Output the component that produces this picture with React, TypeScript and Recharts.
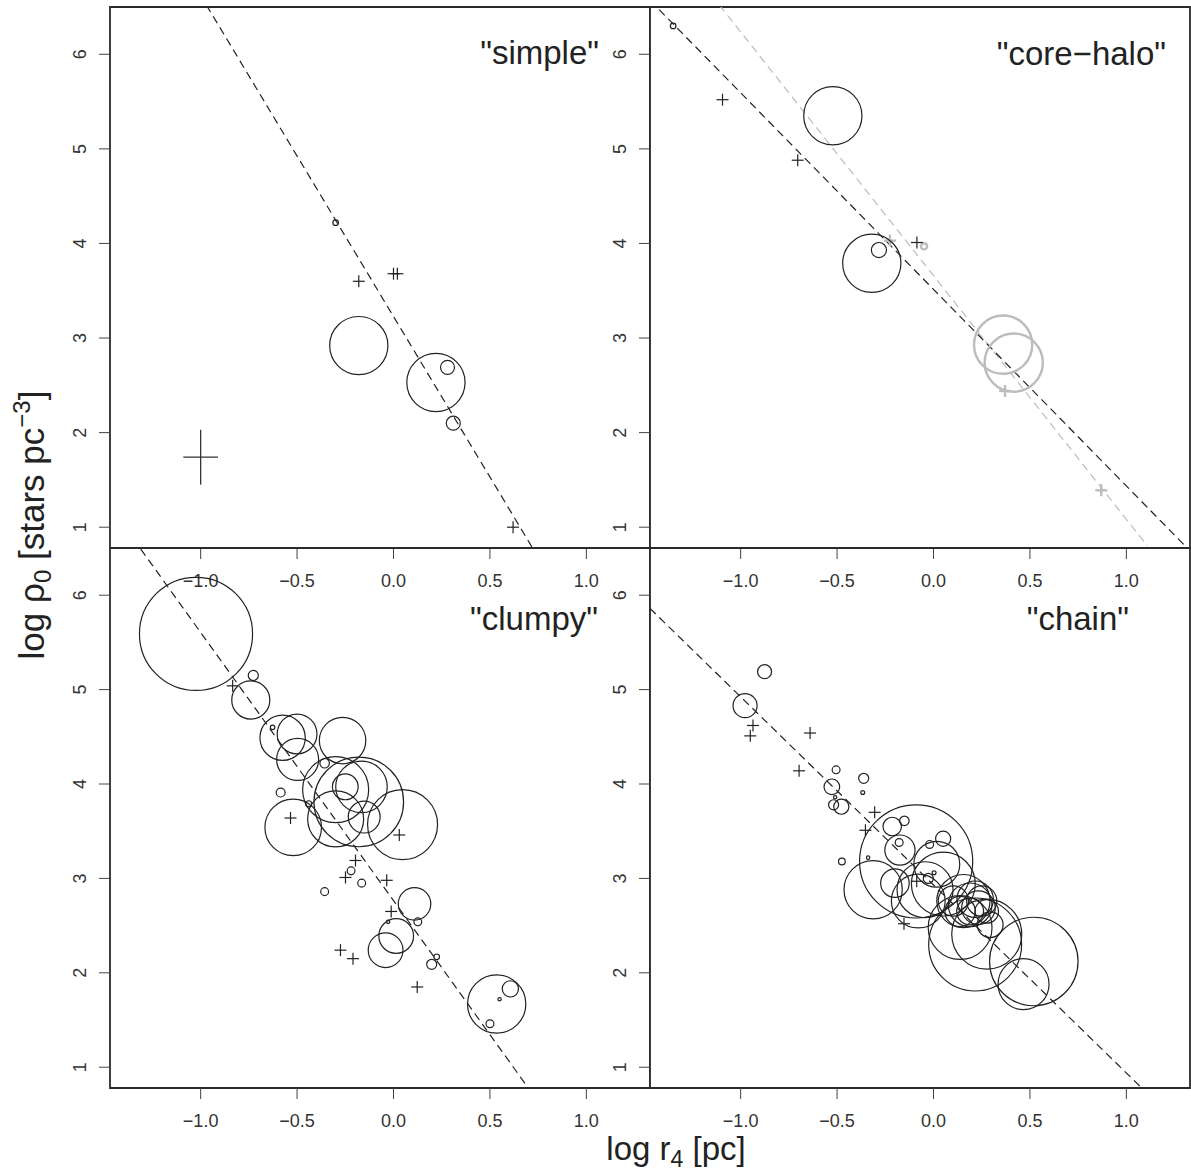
import { ScatterChart, Scatter, XAxis, YAxis, ReferenceLine, ReferenceArea, ErrorBar } from 'recharts';

// axes shared by all four panels
const X_DOMAIN: [number, number] = [-1.47, 1.33];
const Y_DOMAIN: [number, number] = [0.78, 6.5];
const xTicks = [-1, -0.5, 0, 0.5, 1];
const yTicks = [1, 2, 3, 4, 5, 6];
const panelTitles = ['"simple"', '"core\u2212halo"', '"clumpy"', '"chain"'];

// "simple"
const simpleCircles = [
  { x: -0.30, y: 4.22, w: 0.5 },
  { x: -0.18, y: 2.92, w: 5.2 },
  { x: 0.22, y: 2.53, w: 5.2 },
  { x: 0.28, y: 2.69, w: 1.25 },
  { x: 0.31, y: 2.10, w: 1.25 },
];
const simpleCrosses = [
  { x: -0.18, y: 3.60 },
  { x: 0.0, y: 3.68 },
  { x: 0.02, y: 3.68 },
  { x: 0.62, y: 1.0 },
];
const typicalError = [{ x: -1.0, y: 1.74, ex: 0.09, ey: 0.29 }];
const simpleFit = [{ x: -0.97, y: 6.52 }, { x: 0.73, y: 0.75 }];

// "core-halo"
const coreCircles = [
  { x: -1.35, y: 6.30, w: 0.5 },
  { x: -0.522, y: 5.35, w: 5.2 },
  { x: -0.32, y: 3.79, w: 5.2 },
  { x: -0.283, y: 3.93, w: 1.35 },
];
const coreCrosses = [
  { x: -1.094, y: 5.52 },
  { x: -0.704, y: 4.88 },
  { x: -0.086, y: 4.01 },
];
const haloCircles = [
  { x: -0.049, y: 3.97, w: 0.55 },
  { x: 0.361, y: 2.93, w: 5.2 },
  { x: 0.416, y: 2.74, w: 5.2 },
];
const haloCrosses = [
  { x: -0.226, y: 4.03 },
  { x: 0.371, y: 2.44 },
  { x: 0.87, y: 1.39 },
];
const coreFit = [{ x: -1.47, y: 6.57 }, { x: 1.33, y: 0.75 }];
const haloFit = [{ x: -1.11, y: 6.52 }, { x: 1.11, y: 0.8 }];

// "clumpy"
const clumpyCircles = [
  { x: -1.024, y: 5.59, w: 10.1 },
  { x: -0.727, y: 5.15, w: 0.9 },
  { x: -0.74, y: 4.89, w: 3.4 },
  { x: -0.627, y: 4.60, w: 0.4 },
  { x: -0.575, y: 4.49, w: 4.05 },
  { x: -0.50, y: 4.53, w: 3.55 },
  { x: -0.497, y: 4.26, w: 3.75 },
  { x: -0.264, y: 4.46, w: 4.15 },
  { x: -0.357, y: 4.22, w: 0.85 },
  { x: -0.585, y: 3.91, w: 0.8 },
  { x: -0.44, y: 3.79, w: 0.55 },
  { x: -0.52, y: 3.54, w: 5.05 },
  { x: -0.30, y: 3.94, w: 5.9 },
  { x: -0.30, y: 3.63, w: 5.0 },
  { x: -0.18, y: 3.81, w: 8.0 },
  { x: -0.166, y: 3.97, w: 4.6 },
  { x: -0.25, y: 3.97, w: 2.3 },
  { x: -0.152, y: 3.65, w: 2.85 },
  { x: 0.047, y: 3.57, w: 6.25 },
  { x: -0.22, y: 3.08, w: 0.7 },
  { x: -0.165, y: 2.95, w: 0.7 },
  { x: -0.357, y: 2.86, w: 0.7 },
  { x: 0.109, y: 2.73, w: 2.9 },
  { x: 0.126, y: 2.54, w: 0.7 },
  { x: -0.028, y: 2.54, w: 0.3 },
  { x: 0.014, y: 2.39, w: 3.1 },
  { x: -0.041, y: 2.24, w: 3.1 },
  { x: 0.224, y: 2.17, w: 0.5 },
  { x: 0.198, y: 2.09, w: 0.9 },
  { x: 0.535, y: 1.67, w: 5.2 },
  { x: 0.606, y: 1.83, w: 1.45 },
  { x: 0.55, y: 1.72, w: 0.3 },
  { x: 0.50, y: 1.46, w: 0.7 },
];
const clumpyCrosses = [
  { x: -0.834, y: 5.04 },
  { x: -0.534, y: 3.64 },
  { x: 0.03, y: 3.46 },
  { x: -0.197, y: 3.19 },
  { x: -0.249, y: 3.01 },
  { x: -0.035, y: 2.98 },
  { x: -0.012, y: 2.65 },
  { x: -0.275, y: 2.24 },
  { x: -0.21, y: 2.15 },
  { x: 0.123, y: 1.85 },
];
const clumpyFit = [{ x: -1.35, y: 6.6 }, { x: 0.72, y: 0.72 }];

// "chain"
const chainCircles = [
  { x: -0.876, y: 5.19, w: 1.25 },
  { x: -0.977, y: 4.83, w: 2.15 },
  { x: -0.505, y: 4.15, w: 0.7 },
  { x: -0.362, y: 4.06, w: 0.9 },
  { x: -0.527, y: 3.97, w: 1.4 },
  { x: -0.367, y: 3.91, w: 0.35 },
  { x: -0.51, y: 3.86, w: 0.3 },
  { x: -0.518, y: 3.78, w: 0.9 },
  { x: -0.478, y: 3.76, w: 1.35 },
  { x: -0.475, y: 3.18, w: 0.6 },
  { x: -0.339, y: 3.22, w: 0.3 },
  { x: -0.214, y: 3.55, w: 1.65 },
  { x: -0.151, y: 3.61, w: 0.85 },
  { x: -0.178, y: 3.38, w: 0.7 },
  { x: -0.174, y: 3.30, w: 2.7 },
  { x: -0.09, y: 3.18, w: 10.1 },
  { x: 0.05, y: 3.42, w: 1.35 },
  { x: -0.02, y: 3.36, w: 0.7 },
  { x: 0.017, y: 3.15, w: 4.1 },
  { x: -0.313, y: 2.88, w: 5.2 },
  { x: -0.2, y: 2.95, w: 2.55 },
  { x: -0.044, y: 2.88, w: 5.0 },
  { x: 0.051, y: 2.94, w: 5.7 },
  { x: -0.027, y: 3.0, w: 0.9 },
  { x: 0.003, y: 3.06, w: 0.35 },
  { x: -0.079, y: 2.76, w: 4.8 },
  { x: 0.155, y: 2.76, w: 4.75 },
  { x: 0.19, y: 2.72, w: 3.9 },
  { x: 0.216, y: 2.78, w: 3.25 },
  { x: 0.233, y: 2.69, w: 3.0 },
  { x: 0.25, y: 2.76, w: 2.7 },
  { x: 0.19, y: 2.65, w: 2.4 },
  { x: 0.276, y: 2.65, w: 2.1 },
  { x: 0.138, y: 2.65, w: 2.7 },
  { x: 0.103, y: 2.76, w: 2.7 },
  { x: 0.138, y: 2.48, w: 5.7 },
  { x: 0.276, y: 2.41, w: 6.25 },
  { x: 0.294, y: 2.51, w: 2.3 },
  { x: 0.216, y: 2.30, w: 8.3 },
  { x: 0.52, y: 2.12, w: 7.9 },
  { x: 0.467, y: 1.88, w: 4.55 },
];
const chainCrosses = [
  { x: -0.936, y: 4.62 },
  { x: -0.95, y: 4.51 },
  { x: -0.64, y: 4.54 },
  { x: -0.697, y: 4.14 },
  { x: -0.305, y: 3.70 },
  { x: -0.353, y: 3.51 },
  { x: -0.087, y: 2.97 },
  { x: -0.153, y: 2.52 },
];
const chainFit = [{ x: -1.47, y: 5.86 }, { x: 1.1, y: 0.74 }];

const FONT = '"Liberation Sans", Arial, Helvetica, sans-serif';
const INK = '#222';
const GREY = '#bcbcbc';
const R_UNIT = 5.6;

const ring = (color: string, sw: number) => (props: any) => {
  const { cx, cy, payload } = props;
  if (cx == null || cy == null) return <g />;
  return <circle cx={cx} cy={cy} r={payload.w * R_UNIT} fill="none" stroke={color} strokeWidth={sw} />;
};

const plus = (color: string, sw: number) => (props: any) => {
  const { cx, cy } = props;
  if (cx == null || cy == null) return <g />;
  return (
    <g stroke={color} strokeWidth={sw}>
      <line x1={cx - 6} x2={cx + 6} y1={cy} y2={cy} />
      <line x1={cx} x2={cx} y1={cy - 6} y2={cy + 6} />
    </g>
  );
};

const nothing = () => <g />;

const fmtX = (v: number) => (v < 0 ? '\u2212' : '') + Math.abs(v).toFixed(1);

const XTick = (props: any) => {
  const { x, y, payload } = props;
  return (
    <text x={x} y={y + 28} textAnchor="middle" fontSize={18} fill="#333" fontFamily={FONT}>
      {fmtX(payload.value)}
    </text>
  );
};

const YTick = (props: any) => {
  const { x, y, payload } = props;
  const bx = x - 12.5;
  return (
    <text x={bx} y={y} transform={`rotate(-90 ${bx} ${y})`} textAnchor="middle" fontSize={18} fill="#333" fontFamily={FONT}>
      {payload.value}
    </text>
  );
};

type PanelProps = {
  left: number;
  top: number;
  width: number;
  margin: { top: number; right: number; bottom: number; left: number };
  children: any;
};

const AXIS_H = 52;

const Panel = ({ left, top, width, margin, children }: PanelProps) => (
  <div style={{ position: 'absolute', left, top }}>
    <ScatterChart width={width} height={548 - 7 + AXIS_H + 7} margin={margin} style={{ overflow: 'visible' }}>
      <XAxis
        type="number"
        dataKey="x"
        domain={X_DOMAIN}
        ticks={xTicks}
        interval={0}
        allowDataOverflow
        axisLine={false}
        tickLine={{ stroke: '#444' }}
        tickSize={11}
        tickMargin={0}
        tick={XTick}
        height={AXIS_H}
      />
      <YAxis
        type="number"
        dataKey="y"
        domain={Y_DOMAIN}
        ticks={yTicks}
        interval={0}
        allowDataOverflow
        axisLine={false}
        tickLine={{ stroke: '#444' }}
        tickSize={11}
        tickMargin={0}
        tick={YTick}
        width={60}
      />
      <ReferenceArea
        x1={X_DOMAIN[0]}
        x2={X_DOMAIN[1]}
        y1={Y_DOMAIN[0]}
        y2={Y_DOMAIN[1]}
        fill="none"
        fillOpacity={0}
        stroke="#2a2a2a"
        strokeWidth={1.8}
        ifOverflow="visible"
      />
      {children}
    </ScatterChart>
  </div>
);

const fitLine = (pts: { x: number; y: number }[], color: string, sw: number) => (
  <ReferenceLine
    segment={pts}
    stroke={color}
    strokeWidth={sw}
    strokeDasharray="8 5"
    ifOverflow="hidden"
  />
);

// top row: plot from y=7 to 548; bottom row: 548 to 1088 (chart placed at top 540)
const leftMargin = { top: 7, right: 0, bottom: 0, left: 50 };
const rightMargin = { top: 7, right: 1, bottom: 0, left: 0 };
const leftMarginB = { top: 8, right: 0, bottom: 0, left: 50 };
const rightMarginB = { top: 8, right: 1, bottom: 0, left: 0 };

export default function App() {
  return (
    <div style={{ position: 'absolute', left: 0, top: 0, width: 1191, height: 1171, background: '#fff', overflow: 'hidden' }}>
      <Panel left={0} top={0} width={650} margin={leftMargin}>
        {fitLine(simpleFit, INK, 1.2)}
        <Scatter data={typicalError} shape={nothing} isAnimationActive={false}>
          <ErrorBar dataKey="ex" direction="x" width={0} stroke="#333" strokeWidth={1.3} isAnimationActive={false} />
          <ErrorBar dataKey="ey" direction="y" width={0} stroke="#333" strokeWidth={1.3} isAnimationActive={false} />
        </Scatter>
        <Scatter data={simpleCircles} shape={ring(INK, 1.2)} isAnimationActive={false} />
        <Scatter data={simpleCrosses} shape={plus(INK, 1.2)} isAnimationActive={false} />
      </Panel>

      <Panel left={590} top={0} width={601} margin={rightMargin}>
        {fitLine(haloFit, GREY, 1.2)}
        {fitLine(coreFit, INK, 1.2)}
        <Scatter data={haloCircles} shape={ring(GREY, 2.4)} isAnimationActive={false} />
        <Scatter data={haloCrosses} shape={plus(GREY, 2.4)} isAnimationActive={false} />
        <Scatter data={coreCircles} shape={ring(INK, 1.2)} isAnimationActive={false} />
        <Scatter data={coreCrosses} shape={plus(INK, 1.2)} isAnimationActive={false} />
      </Panel>

      <Panel left={0} top={540} width={650} margin={leftMarginB}>
        {fitLine(clumpyFit, INK, 1.2)}
        <Scatter data={clumpyCircles} shape={ring(INK, 1.2)} isAnimationActive={false} />
        <Scatter data={clumpyCrosses} shape={plus(INK, 1.2)} isAnimationActive={false} />
      </Panel>

      <Panel left={590} top={540} width={601} margin={rightMarginB}>
        {fitLine(chainFit, INK, 1.2)}
        <Scatter data={chainCircles} shape={ring(INK, 1.2)} isAnimationActive={false} />
        <Scatter data={chainCrosses} shape={plus(INK, 1.2)} isAnimationActive={false} />
      </Panel>

      <svg width={1191} height={1171} style={{ position: 'absolute', left: 0, top: 0, pointerEvents: 'none' }}>
        <g fontFamily={FONT} fill={INK} fontSize={33}>
          <text x={599} y={64} textAnchor="end">{panelTitles[0]}</text>
          <text x={1166} y={65} textAnchor="end">{panelTitles[1]}</text>
          <text x={598} y={630} textAnchor="end">{panelTitles[2]}</text>
          <text x={1129} y={630} textAnchor="end">{panelTitles[3]}</text>
          <text x={676} y={1160} textAnchor="middle">
            log r<tspan dy={7} fontSize={23}>4</tspan>
            <tspan dy={-7}> [pc]</tspan>
          </text>
          <text transform="translate(44,525) rotate(-90)" textAnchor="middle" fontSize={35}>
            log {'\u03C1'}<tspan dy={7} fontSize={24}>0</tspan>
            <tspan dy={-7}> [stars pc</tspan>
            <tspan dy={-14} fontSize={24}>{'\u22123'}</tspan>
            <tspan dy={14}>]</tspan>
          </text>
        </g>
      </svg>
    </div>
  );
}
